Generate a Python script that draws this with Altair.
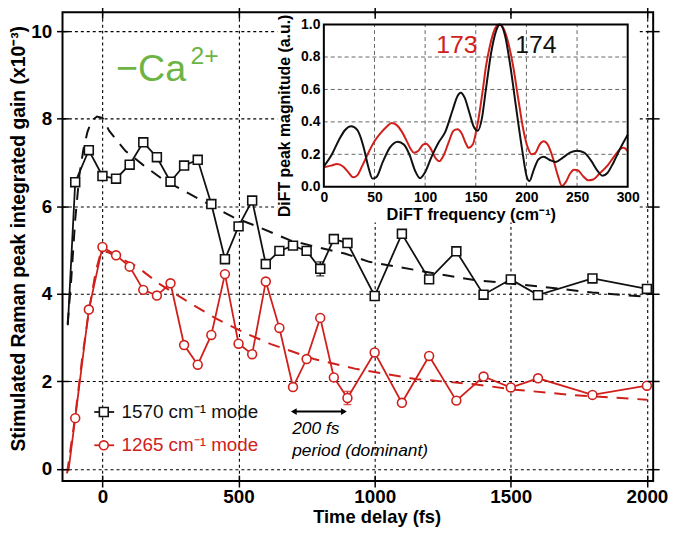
import altair as alt
import pandas as pd

FONT = "Liberation Sans"
BLACK = "#111111"
RED = "#d0201c"
GREEN = "#6cb444"

# ---------------- main panel data ----------------
time_fs = [-100, -50, 0, 50, 100, 150, 200, 250, 300, 350,
           400, 450, 500, 550, 600, 650, 700, 750, 800, 850,
           900, 1000, 1100, 1200, 1300, 1400, 1500, 1600, 1800, 2000]
gain_1570 = [6.55, 7.28, 6.69, 6.63, 6.95, 7.46, 7.12, 6.56, 6.93, 7.06,
             6.05, 4.79, 5.54, 6.13, 4.68, 4.98, 5.10, 4.98, 4.57, 5.25,
             5.16, 3.95, 5.37, 4.33, 4.97, 3.98, 4.33, 3.97, 4.35, 4.11]
gain_1265 = [1.16, 3.64, 5.07, 4.88, 4.62, 4.09, 3.96, 4.24, 2.83, 2.38,
             3.06, 4.45, 2.86, 2.62, 4.28, 3.22, 1.87, 2.51, 3.45, 2.09,
             1.62, 2.66, 1.51, 2.58, 1.56, 2.11, 1.86, 2.07, 1.69, 1.90]
# start of each solid trace (no marker drawn there)
lead_t = [-127, -125]
lead_v = [3.28, -0.05]

fit_t_1570 = [-128, -115, -100, -85, -70, -55, -40, -20, 0, 25, 85, 150, 225, 300,
              380, 480, 560, 690, 800, 890, 980, 1180, 1360, 1600, 1800, 2000]
fit_v_1570 = [3.3, 4.3, 5.7, 6.7, 7.3, 7.7, 7.95, 8.05, 8.02, 7.72, 7.26, 6.94, 6.6, 6.35,
              6.08, 5.75, 5.56, 5.22, 5.05, 4.92, 4.73, 4.51, 4.32, 4.17, 4.03, 3.93]
fit_t_1265 = [-130, -100, -75, -50, -25, -10, 0, 20, 127, 206, 303, 413, 522, 619,
              777, 934, 1153, 1359, 1517, 1723, 2000]
fit_v_1265 = [-0.1, 1.2, 2.5, 3.6, 4.5, 4.85, 4.98, 4.95, 4.62, 4.24, 3.86, 3.45, 3.11, 2.85,
              2.51, 2.28, 2.05, 1.94, 1.81, 1.69, 1.58]

err_t = [800, 900]
err_center = [4.57, 1.62]
err_half = [0.16, 0.15]

x_ticks = [0, 500, 1000, 1500, 2000]
y_ticks = [0, 2, 4, 6, 8, 10]

# ---------------- inset data ----------------
freq_174 = [0, 8, 15, 21, 27, 33, 39, 44, 48, 52, 58, 65, 73, 79, 85, 90, 95, 100, 106, 113,
            120, 127, 132, 135, 139, 144, 148, 152, 156, 160, 165, 170, 174, 179, 184, 190,
            196, 200, 203, 207, 212, 217, 223, 229, 236, 243, 250, 257, 264, 270, 275, 280,
            286, 293, 300]
mag_174 = [0.125, 0.2, 0.29, 0.35, 0.373, 0.35, 0.25, 0.12, 0.05, 0.06, 0.15, 0.24, 0.278,
           0.26, 0.19, 0.1, 0.053, 0.09, 0.18, 0.27, 0.34, 0.47, 0.56, 0.58, 0.55, 0.45,
           0.37, 0.345, 0.42, 0.6, 0.82, 0.96, 1.0, 0.93, 0.75, 0.48, 0.22, 0.07, 0.035,
           0.1, 0.17, 0.185, 0.165, 0.153, 0.18, 0.21, 0.222, 0.21, 0.16, 0.1, 0.068,
           0.085, 0.15, 0.24, 0.32]
freq_173 = [0, 7, 13, 19, 24, 29, 33, 38, 44, 50, 56, 62, 67, 72, 77, 82, 86, 89, 93, 98,
            101, 105, 110, 114, 118, 123, 128, 132, 136, 140, 143, 147, 150, 153, 157, 160,
            164, 168, 173, 177, 182, 187, 192, 197, 202, 205, 209, 213, 217, 221, 226, 231,
            235, 239, 243, 247, 251, 256, 261, 266, 272, 280, 287, 292, 296, 300]
mag_173 = [0.12, 0.13, 0.14, 0.125, 0.09, 0.058, 0.07, 0.13, 0.21, 0.28, 0.33, 0.37, 0.393,
           0.38, 0.34, 0.28, 0.23, 0.21, 0.22, 0.26, 0.265, 0.24, 0.18, 0.158, 0.19, 0.27,
           0.345, 0.355, 0.33, 0.27, 0.24, 0.26, 0.33, 0.43, 0.6, 0.74, 0.87, 0.96, 1.0,
           0.98, 0.89, 0.74, 0.54, 0.35, 0.23, 0.2, 0.21, 0.26, 0.28, 0.26, 0.18, 0.07,
           0.005, 0.03, 0.08, 0.105, 0.1, 0.065, 0.04, 0.045, 0.08, 0.13, 0.19, 0.23, 0.24,
           0.22]
inset_x_ticks = [0, 50, 100, 150, 200, 250, 300]
inset_y_ticks = [0.0, 0.2, 0.4, 0.6, 0.8, 1.0]
inset_grid_f = [50, 100, 150, 200, 250]
inset_grid_m = [0.2, 0.4, 0.6, 0.8]

legend_labels = ["1570 cm\u207b\u00b9 mode", "1265 cm\u207b\u00b9 mode"]
peak_labels = ["173", "174"]

# ---------------- geometry ----------------
W, H = 596, 473
xs = alt.Scale(domain=[-146.7, 2023], nice=False, zero=False)
ys = alt.Scale(domain=[-0.278, 10.43], nice=False, zero=False)
xi = alt.Scale(domain=[0, 300], range=[263.7, 570.3], nice=False, zero=False)
yi = alt.Scale(domain=[0, 1], range=[176, 12.4], nice=False, zero=False)

ax_x = alt.Axis(values=x_ticks, format="d", title="Time delay (fs)", grid=True,
                gridColor="#000000", gridDash=[3, 3], gridWidth=1.1, domain=False,
                tickSize=6, tickWidth=1.5, tickColor="#000000", zindex=0,
                labelFont=FONT, labelFontSize=19, labelFontWeight="bold", labelColor="#000000",
                labelPadding=1, labelFlush=False,
                titleFont=FONT, titleFontSize=18.5, titleFontWeight="bold", titleColor="#000000",
                titleX=317, titleY=36, titleAlign="center", titleBaseline="middle")
ax_y = alt.Axis(values=y_ticks, format="d",
                title="Stimulated Raman peak integrated gain (x10\u207b\u00b3)", grid=True,
                gridColor="#000000", gridDash=[3, 3], gridWidth=1.1, domain=False,
                tickSize=6, tickWidth=1.5, tickColor="#000000", zindex=0,
                labelFont=FONT, labelFontSize=19, labelFontWeight="bold", labelColor="#000000",
                labelPadding=5,
                titleFont=FONT, titleFontSize=19.5, titleFontWeight="bold", titleColor="#000000",
                titleX=-44, titleY=228, titleAngle=270, titleAlign="center",
                titleBaseline="middle")
# ticks crossing the frame on all four sides
ax_top = alt.Axis(orient="top", offset=-6, values=x_ticks, labels=False, domain=False, grid=False,
                  tickSize=12, tickWidth=1.5, tickColor="#000000", title="", zindex=1)
ax_right = alt.Axis(orient="right", offset=-6, values=y_ticks, labels=False, domain=False, grid=False,
                    tickSize=12, tickWidth=1.5, tickColor="#000000", title="", zindex=1)
ax_bot_in = alt.Axis(orient="bottom", offset=-6, values=x_ticks, labels=False, domain=False,
                     grid=False, tickSize=6, tickWidth=1.5, tickColor="#000000", title="", zindex=1)
ax_left_in = alt.Axis(orient="left", offset=-6, values=y_ticks, labels=False, domain=False,
                      grid=False, tickSize=6, tickWidth=1.5, tickColor="#000000", title="", zindex=1)
ax_xi = alt.Axis(orient="bottom", offset=-297, values=inset_x_ticks, format="d", grid=False,
                 domain=False, ticks=False, zindex=1, labelFont=FONT, labelFontSize=14,
                 labelFontWeight="bold", labelColor="#000000", labelPadding=4, labelFlush=False,
                 title="DiFT frequency (cm\u207b\u00b9)", titleFont=FONT, titleFontSize=16.5,
                 titleFontWeight="bold", titleColor="#000000", titleX=412, titleY=28,
                 titleAlign="center", titleBaseline="middle")
ax_yi = alt.Axis(orient="left", offset=-263.7, values=inset_y_ticks, format=".1f", grid=False,
                 domain=False, ticks=False, zindex=1, labelFont=FONT, labelFontSize=14,
                 labelFontWeight="bold", labelColor="#000000", labelPadding=4,
                 title="DiFT peak magnitude (a.u.)", titleFont=FONT, titleFontSize=16,
                 titleFontWeight="bold", titleColor="#000000", titleX=-40, titleY=104,
                 titleAngle=270, titleAlign="center", titleBaseline="middle")

X = alt.X("t:Q", scale=xs, axis=ax_x)
Y = alt.Y("v:Q", scale=ys, axis=ax_y)

# ---------------- data frames ----------------
line_1570 = pd.DataFrame({"t": [lead_t[0]] + time_fs, "v": [lead_v[0]] + gain_1570})
line_1265 = pd.DataFrame({"t": [lead_t[1]] + time_fs, "v": [lead_v[1]] + gain_1265})
pts_1570 = pd.DataFrame({"t": time_fs, "v": gain_1570})
pts_1265 = pd.DataFrame({"t": time_fs, "v": gain_1265})
fit_1570 = pd.DataFrame({"t": fit_t_1570, "v": fit_v_1570})
fit_1265 = pd.DataFrame({"t": fit_t_1265, "v": fit_v_1265})
err_df = pd.DataFrame({"t": err_t,
                       "v": [c - h for c, h in zip(err_center, err_half)],
                       "v2": [c + h for c, h in zip(err_center, err_half)],
                       "c": [BLACK, RED]})
caps_df = pd.DataFrame({"t": err_t * 2,
                        "v": list(err_df["v"]) + list(err_df["v2"]),
                        "c": [BLACK, RED] * 2})

# legend (positions in data units)
leg_v = [1.30, 0.54]
leg_df = pd.DataFrame({"t": [5, 5], "v": leg_v, "c": [BLACK, RED], "s": ["square", "circle"]})
leg_line_df = pd.DataFrame({"t": [-30, -30], "t2": [43, 43], "v": leg_v, "c": [BLACK, RED]})
leg_text_df = pd.DataFrame({"t": [70, 70], "v": leg_v, "txt": legend_labels, "c": [BLACK, RED]})

arrow_df = pd.DataFrame({"t": [700], "t2": [890], "v": [1.31]})
arrow_heads = pd.DataFrame({"t": [703, 887], "v": [1.31, 1.31],
                            "s": ["triangle-left", "triangle-right"]})
ann_df = pd.DataFrame({"t": [697, 697], "v": [0.92, 0.40],
                       "txt": ["200 fs", "period (dominant)"]})
ca_df = pd.DataFrame({"t": [50], "v": [8.85], "txt": ["\u2212Ca"]})
ca_sup_df = pd.DataFrame({"t": [323], "v": [9.25], "txt": ["2+"]})

# ---------------- main layers ----------------
fit_black = alt.Chart(fit_1570).mark_line(color=BLACK, strokeWidth=2, strokeDash=[12, 9]).encode(x=X, y=Y)
fit_red = alt.Chart(fit_1265).mark_line(color=RED, strokeWidth=2, strokeDash=[12, 9]).encode(x=X, y=Y)
ln_black = alt.Chart(line_1570).mark_line(color=BLACK, strokeWidth=1.8).encode(x=X, y=Y)
ln_red = alt.Chart(line_1265).mark_line(color=RED, strokeWidth=1.8).encode(x=X, y=Y)
err_rules = alt.Chart(err_df).mark_rule(strokeWidth=1.5).encode(
    x=X, y=Y, y2=alt.Y2("v2:Q"), color=alt.Color("c:N", scale=None))
err_caps = alt.Chart(caps_df).mark_tick(orient="horizontal", size=8, thickness=1.5).encode(
    x=X, y=Y, color=alt.Color("c:N", scale=None))
pt_black = alt.Chart(pts_1570).mark_point(shape="square", filled=True, fill="white",
                                          stroke=BLACK, strokeWidth=1.6, size=80,
                                          opacity=1).encode(x=X, y=Y)
pt_red = alt.Chart(pts_1265).mark_point(shape="circle", filled=True, fill="white",
                                        stroke=RED, strokeWidth=1.6, size=80,
                                        opacity=1).encode(x=X, y=Y)
leg_lines = alt.Chart(leg_line_df).mark_rule(strokeWidth=1.8).encode(
    x=X, x2=alt.X2("t2:Q"), y=Y, color=alt.Color("c:N", scale=None))
leg_pts = alt.Chart(leg_df).mark_point(filled=True, fill="white", strokeWidth=1.6, size=80,
                                       opacity=1).encode(
    x=X, y=Y, stroke=alt.Stroke("c:N", scale=None), shape=alt.Shape("s:N", scale=None))
leg_txt = alt.Chart(leg_text_df).mark_text(align="left", baseline="middle", font=FONT,
                                           fontSize=19).encode(
    x=X, y=Y, text="txt:N", color=alt.Color("c:N", scale=None))
arr = alt.Chart(arrow_df).mark_rule(color="#000000", strokeWidth=2).encode(x=X, x2=alt.X2("t2:Q"), y=Y)
arr_h = alt.Chart(arrow_heads).mark_point(filled=True, color="#000000", size=45, opacity=1).encode(
    x=X, y=Y, shape=alt.Shape("s:N", scale=None))
ann = alt.Chart(ann_df).mark_text(align="left", baseline="middle", font=FONT, fontSize=17.5,
                                  fontStyle="italic", color="#000000").encode(x=X, y=Y, text="txt:N")
ca = alt.Chart(ca_df).mark_text(align="left", baseline="alphabetic", font=FONT, fontSize=38,
                                color=GREEN).encode(x=X, y=Y, text="txt:N")
ca_sup = alt.Chart(ca_sup_df).mark_text(align="left", baseline="alphabetic", font=FONT,
                                        fontSize=25, color=GREEN).encode(x=X, y=Y, text="txt:N")

main = alt.layer(fit_black, fit_red, ln_black, ln_red, err_rules, err_caps, pt_black, pt_red,
                 leg_lines, leg_pts, leg_txt, arr, arr_h, ann, ca, ca_sup)

mirror = alt.Chart(pts_1570).mark_point(opacity=0).encode(
    x=alt.X("t:Q", scale=xs, axis=ax_top), y=alt.Y("v:Q", scale=ys, axis=ax_right))
mirror_in = alt.Chart(pts_1570).mark_point(opacity=0).encode(
    x=alt.X("t:Q", scale=xs, axis=ax_bot_in), y=alt.Y("v:Q", scale=ys, axis=ax_left_in))

# ---------------- inset layers ----------------
XI = alt.X("f:Q", scale=xi, axis=ax_xi)
YI = alt.Y("m:Q", scale=yi, axis=ax_yi)

bg_df = pd.DataFrame({"f": [-46], "f2": [311], "m": [-0.22], "m2": [1.06]})
frame_df = pd.DataFrame({"f": [0], "f2": [300], "m": [0], "m2": [1]})
gx_df = pd.DataFrame({"f": inset_grid_f, "m": [0.0] * len(inset_grid_f), "m2": [1.0] * len(inset_grid_f)})
gy_df = pd.DataFrame({"f": [0] * len(inset_grid_m), "f2": [300] * len(inset_grid_m), "m": inset_grid_m})
c174 = pd.DataFrame({"f": freq_174, "m": mag_174})
c173 = pd.DataFrame({"f": freq_173, "m": mag_173})
pk_df = pd.DataFrame({"f": [111, 189], "m": [0.875, 0.875], "txt": peak_labels, "c": [RED, BLACK]})

bg = alt.Chart(bg_df).mark_rect(fill="white", opacity=1).encode(
    x=XI, x2=alt.X2("f2:Q"), y=YI, y2=alt.Y2("m2:Q"))
gx = alt.Chart(gx_df).mark_rule(color="#555555", strokeWidth=0.9, strokeDash=[4, 3]).encode(
    x=XI, y=YI, y2=alt.Y2("m2:Q"))
gy = alt.Chart(gy_df).mark_rule(color="#555555", strokeWidth=0.9, strokeDash=[4, 3]).encode(
    x=XI, x2=alt.X2("f2:Q"), y=YI)
cr = alt.Chart(c173).mark_line(color=RED, strokeWidth=2, interpolate="monotone").encode(x=XI, y=YI)
cb = alt.Chart(c174).mark_line(color=BLACK, strokeWidth=2, interpolate="monotone").encode(x=XI, y=YI)
frame = alt.Chart(frame_df).mark_rect(fillOpacity=0, stroke="#000000", strokeWidth=2).encode(
    x=XI, x2=alt.X2("f2:Q"), y=YI, y2=alt.Y2("m2:Q"))
pk = alt.Chart(pk_df).mark_text(align="left", baseline="middle", font=FONT, fontSize=25).encode(
    x=XI, y=YI, text="txt:N", color=alt.Color("c:N", scale=None))

inset = alt.layer(bg, gx, gy, cr, cb, frame, pk)

chart = alt.layer(main, mirror, mirror_in, inset).resolve_scale(
    x="independent", y="independent"
).properties(
    width=W, height=H,
    padding={"left": 55, "top": 2, "right": 19, "bottom": 46},
    autosize=alt.AutoSizeParams(type="none"),
    background="white",
).configure_view(stroke="#000000", strokeWidth=2)

chart.save("out.html", embed_options={"renderer": "svg", "actions": False})
